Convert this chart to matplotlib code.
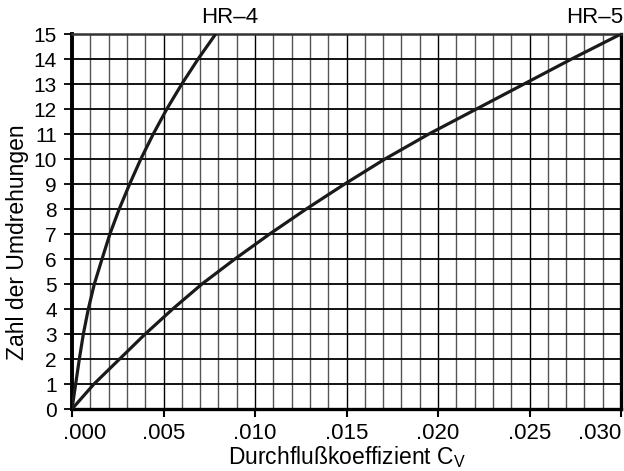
import numpy as np
from matplotlib import pyplot as plt
from matplotlib.ticker import FixedLocator, FixedFormatter
from matplotlib.transforms import ScaledTranslation

plt.rcParams['font.family'] = ['Liberation Sans', 'DejaVu Sans']

# Umdrehungen (y) vs. Durchflusskoeffizient (x)
turns = [0, 1, 2, 3, 4, 5, 6, 7, 8, 9, 10, 11, 12, 13, 14, 15]
cv_hr4 = [0.0, 0.0002, 0.0004, 0.00062, 0.00089, 0.00122, 0.00164, 0.00207,
          0.00258, 0.00315, 0.00376, 0.00444, 0.00518, 0.0060, 0.00689, 0.00785]
cv_hr5 = [0.0, 0.0012, 0.0026, 0.0040, 0.0055, 0.0071, 0.0089, 0.0108,
          0.0128, 0.0149, 0.0171, 0.0195, 0.0221, 0.0247, 0.0273, 0.0300]

x_ticks = [0.000, 0.005, 0.010, 0.015, 0.020, 0.025, 0.030]
x_labels = [".000", ".005", ".010", ".015", ".020", ".025", ".030"]
y_ticks = list(range(0, 16))

fig = plt.figure(figsize=(6.24, 4.71), dpi=100)
ax = fig.add_axes([0.1154, 0.1316, 0.8798, 0.7962])

# grid
for xv in np.arange(0.001, 0.030, 0.001):
    major = abs(round(xv / 0.005) * 0.005 - xv) < 1e-9
    ax.axvline(xv, color='black' if major else '#555555', lw=1.0, zorder=1)
for yv in y_ticks[1:-1]:
    ax.axhline(yv, color='black', lw=1.3, zorder=1)

ax.plot(cv_hr4, turns, color='#1a1a1a', lw=2.3, zorder=3)
ax.plot(cv_hr5, turns, color='#1a1a1a', lw=2.3, zorder=3)

ax.set_xlim(0, 0.030)
ax.set_ylim(0, 15)

ax.xaxis.set_major_locator(FixedLocator(x_ticks))
ax.xaxis.set_major_formatter(FixedFormatter(x_labels))
ax.yaxis.set_major_locator(FixedLocator(y_ticks))
ax.tick_params(axis='x', direction='out', length=6, width=1.5, pad=4, labelsize=16)
ax.tick_params(axis='y', direction='out', length=6, width=1.3, pad=5, labelsize=15)

# first and last x labels pushed inward, as in the original
fig.canvas.draw()
xlab = ax.get_xticklabels()
xlab[0].set_transform(xlab[0].get_transform() + ScaledTranslation(13 / 100, 0, fig.dpi_scale_trans))
xlab[-1].set_transform(xlab[-1].get_transform() + ScaledTranslation(-21 / 100, 0, fig.dpi_scale_trans))

for side, w in [('left', 2.8), ('bottom', 2.4), ('right', 2.4), ('top', 1.8)]:
    ax.spines[side].set_linewidth(w)
ax.spines['top'].set_color('#333333')

ax.text(0.0086, 15.25, 'HR\u20134', ha='center', va='bottom', fontsize=16)
ax.text(0.0301, 15.25, 'HR\u20135', ha='right', va='bottom', fontsize=16)

ax.set_xlabel('Durchflußkoeffizient C$_\\mathregular{V}$', fontsize=16.5, labelpad=0)
ax.set_ylabel('Zahl der Umdrehungen', fontsize=16.5)
ax.yaxis.set_label_coords(-0.079, 0.445)

fig.savefig('out.png', dpi=100)
